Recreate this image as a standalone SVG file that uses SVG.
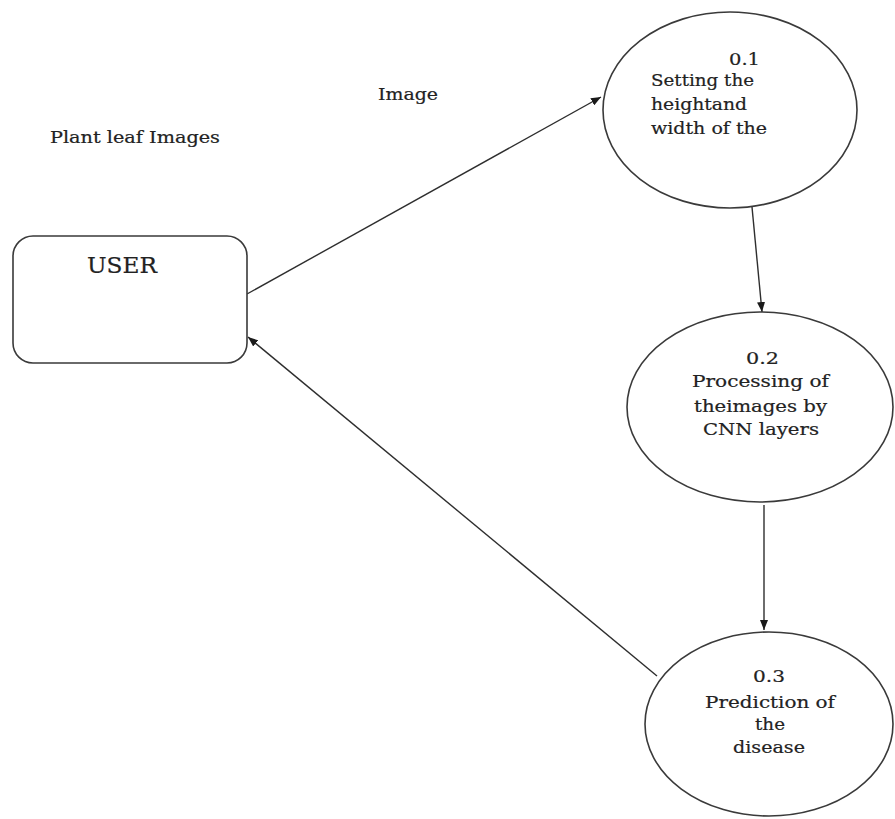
<svg xmlns="http://www.w3.org/2000/svg" width="895" height="819" viewBox="0 0 895 819">
  <style>
    .shape { fill: #ffffff; stroke: #3a3a3a; stroke-width: 1.6; }
    .flow { fill: none; stroke: #2e2e2e; stroke-width: 1.4; marker-end: url(#head); }
    text { fill: #222222; stroke: #222222; stroke-width: 0.2; }
  </style>
  <defs>
    <marker id="head" viewBox="0 0 10 8" refX="10" refY="4" markerWidth="10" markerHeight="8" markerUnits="userSpaceOnUse" orient="auto">
      <path d="M0,0 L10,4 L0,8 Z" fill="#1a1a1a"/>
    </marker>
  </defs>
  <rect width="895" height="819" fill="#ffffff"/>

  <g font-family="'DejaVu Serif', 'Liberation Serif', serif" font-size="17">
    <!-- free-standing labels -->
    <text x="50" y="143" textLength="170" lengthAdjust="spacingAndGlyphs">Plant leaf Images</text>
    <text x="378" y="100" textLength="60" lengthAdjust="spacingAndGlyphs">Image</text>

    <!-- data flows -->
    <g id="connectors">
      <line class="flow" x1="247" y1="294" x2="601" y2="97"/>
      <line class="flow" x1="752" y1="207" x2="762" y2="312"/>
      <line class="flow" x1="764" y1="505" x2="764" y2="630"/>
      <line class="flow" x1="657" y1="676" x2="248" y2="337"/>
    </g>

    <!-- external entity -->
    <g id="user">
      <rect class="shape" x="13" y="236" width="234" height="127" rx="20" ry="20"/>
      <text x="87" y="273" font-size="23" textLength="70" lengthAdjust="spacingAndGlyphs">USER</text>
    </g>

    <!-- process 0.1 -->
    <g id="p01">
      <ellipse class="shape" cx="730" cy="110" rx="127" ry="98"/>
      <text x="729" y="65" textLength="31" lengthAdjust="spacingAndGlyphs">0.1</text>
      <text x="651" y="86" textLength="103" lengthAdjust="spacingAndGlyphs">Setting the</text>
      <text x="651" y="110" textLength="96" lengthAdjust="spacingAndGlyphs">heightand</text>
      <text x="651" y="134" textLength="116" lengthAdjust="spacingAndGlyphs">width of the</text>
    </g>

    <!-- process 0.2 -->
    <g id="p02">
      <ellipse class="shape" cx="760" cy="407" rx="133" ry="95"/>
      <text x="746" y="364" textLength="33" lengthAdjust="spacingAndGlyphs">0.2</text>
      <text x="692" y="387" textLength="137" lengthAdjust="spacingAndGlyphs">Processing of</text>
      <text x="694" y="412" textLength="133" lengthAdjust="spacingAndGlyphs">theimages by</text>
      <text x="703" y="435" textLength="116" lengthAdjust="spacingAndGlyphs">CNN layers</text>
    </g>

    <!-- process 0.3 -->
    <g id="p03">
      <ellipse class="shape" cx="769" cy="724" rx="124" ry="92"/>
      <text x="753" y="682" textLength="32" lengthAdjust="spacingAndGlyphs">0.3</text>
      <text x="705" y="708" textLength="130" lengthAdjust="spacingAndGlyphs">Prediction of</text>
      <text x="755" y="730" textLength="30" lengthAdjust="spacingAndGlyphs">the</text>
      <text x="733" y="753" textLength="72" lengthAdjust="spacingAndGlyphs">disease</text>
    </g>
  </g>
</svg>
